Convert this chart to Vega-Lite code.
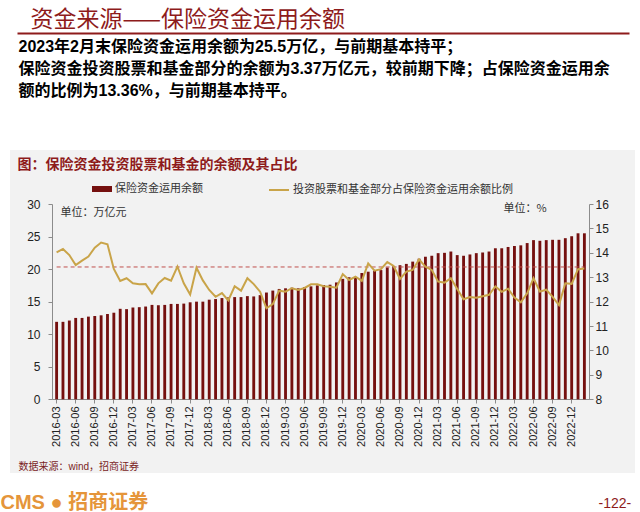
{
  "$schema": "https://vega.github.io/schema/vega-lite/v6.json",
  "width": 625,
  "height": 323,
  "autosize": {"type": "none"},
  "padding": {"left": 10, "top": 150, "right": 5, "bottom": 39},
  "background": "#FFFFFF",
  "config": {"view": {"fill": "#F2F2F2", "stroke": null}, "font": "Liberation Sans"},
  "datasets": {
    "d": [
      {"m": "2016-03", "amt": 11.9, "ratio": 14.02},
      {"m": "2016-04", "amt": 11.9, "ratio": 14.16},
      {"m": "2016-05", "amt": 12.1, "ratio": 13.91},
      {"m": "2016-06", "amt": 12.5, "ratio": 13.5},
      {"m": "2016-07", "amt": 12.5, "ratio": 13.68},
      {"m": "2016-08", "amt": 12.7, "ratio": 13.85},
      {"m": "2016-09", "amt": 12.8, "ratio": 14.21},
      {"m": "2016-10", "amt": 12.9, "ratio": 14.42},
      {"m": "2016-11", "amt": 13.1, "ratio": 14.35},
      {"m": "2016-12", "amt": 13.3, "ratio": 13.34},
      {"m": "2017-01", "amt": 13.9, "ratio": 12.85},
      {"m": "2017-02", "amt": 13.85, "ratio": 12.96},
      {"m": "2017-03", "amt": 14.1, "ratio": 12.75},
      {"m": "2017-04", "amt": 14.15, "ratio": 12.71},
      {"m": "2017-05", "amt": 14.25, "ratio": 12.72},
      {"m": "2017-06", "amt": 14.5, "ratio": 12.34},
      {"m": "2017-07", "amt": 14.45, "ratio": 12.75},
      {"m": "2017-08", "amt": 14.5, "ratio": 12.97},
      {"m": "2017-09", "amt": 14.65, "ratio": 12.86},
      {"m": "2017-10", "amt": 14.65, "ratio": 13.44},
      {"m": "2017-11", "amt": 14.7, "ratio": 12.75},
      {"m": "2017-12", "amt": 14.9, "ratio": 12.29},
      {"m": "2018-01", "amt": 15.0, "ratio": 13.39},
      {"m": "2018-02", "amt": 15.0, "ratio": 12.87},
      {"m": "2018-03", "amt": 15.3, "ratio": 12.48},
      {"m": "2018-04", "amt": 15.4, "ratio": 12.2},
      {"m": "2018-05", "amt": 15.55, "ratio": 12.35},
      {"m": "2018-06", "amt": 15.65, "ratio": 12.05},
      {"m": "2018-07", "amt": 15.7, "ratio": 12.63},
      {"m": "2018-08", "amt": 15.7, "ratio": 12.45},
      {"m": "2018-09", "amt": 15.85, "ratio": 12.96},
      {"m": "2018-10", "amt": 15.8, "ratio": 12.72},
      {"m": "2018-11", "amt": 16.0, "ratio": 12.41},
      {"m": "2018-12", "amt": 16.4, "ratio": 11.73},
      {"m": "2019-01", "amt": 16.7, "ratio": 11.9},
      {"m": "2019-02", "amt": 16.95, "ratio": 12.45},
      {"m": "2019-03", "amt": 17.05, "ratio": 12.41},
      {"m": "2019-04", "amt": 17.15, "ratio": 12.55},
      {"m": "2019-05", "amt": 17.05, "ratio": 12.48},
      {"m": "2019-06", "amt": 17.25, "ratio": 12.56},
      {"m": "2019-07", "amt": 17.35, "ratio": 12.71},
      {"m": "2019-08", "amt": 17.5, "ratio": 12.71},
      {"m": "2019-09", "amt": 17.55, "ratio": 12.63},
      {"m": "2019-10", "amt": 17.6, "ratio": 12.61},
      {"m": "2019-11", "amt": 17.95, "ratio": 12.57},
      {"m": "2019-12", "amt": 18.5, "ratio": 13.13},
      {"m": "2020-01", "amt": 18.75, "ratio": 12.89},
      {"m": "2020-02", "amt": 18.75, "ratio": 13.02},
      {"m": "2020-03", "amt": 19.4, "ratio": 12.85},
      {"m": "2020-04", "amt": 19.6, "ratio": 13.57},
      {"m": "2020-05", "amt": 19.75, "ratio": 13.27},
      {"m": "2020-06", "amt": 19.85, "ratio": 13.33},
      {"m": "2020-07", "amt": 20.25, "ratio": 13.62},
      {"m": "2020-08", "amt": 20.45, "ratio": 13.46},
      {"m": "2020-09", "amt": 20.6, "ratio": 12.93},
      {"m": "2020-10", "amt": 20.8, "ratio": 13.23},
      {"m": "2020-11", "amt": 21.15, "ratio": 13.3},
      {"m": "2020-12", "amt": 21.6, "ratio": 13.73},
      {"m": "2021-01", "amt": 21.9, "ratio": 13.43},
      {"m": "2021-02", "amt": 22.05, "ratio": 13.3},
      {"m": "2021-03", "amt": 22.45, "ratio": 12.82},
      {"m": "2021-04", "amt": 22.5, "ratio": 12.78},
      {"m": "2021-05", "amt": 22.7, "ratio": 12.96},
      {"m": "2021-06", "amt": 22.15, "ratio": 12.52},
      {"m": "2021-07", "amt": 22.05, "ratio": 12.1},
      {"m": "2021-08", "amt": 22.25, "ratio": 12.19},
      {"m": "2021-09", "amt": 22.45, "ratio": 12.16},
      {"m": "2021-10", "amt": 22.55, "ratio": 12.22},
      {"m": "2021-11", "amt": 22.7, "ratio": 12.28},
      {"m": "2021-12", "amt": 23.2, "ratio": 12.62},
      {"m": "2022-01", "amt": 23.2, "ratio": 12.4},
      {"m": "2022-02", "amt": 23.4, "ratio": 12.53},
      {"m": "2022-03", "amt": 23.55, "ratio": 12.17},
      {"m": "2022-04", "amt": 23.65, "ratio": 11.97},
      {"m": "2022-05", "amt": 24.0, "ratio": 12.34},
      {"m": "2022-06", "amt": 24.45, "ratio": 12.96},
      {"m": "2022-07", "amt": 24.35, "ratio": 12.41},
      {"m": "2022-08", "amt": 24.45, "ratio": 12.49},
      {"m": "2022-09", "amt": 24.5, "ratio": 12.2},
      {"m": "2022-10", "amt": 24.5, "ratio": 11.86},
      {"m": "2022-11", "amt": 24.75, "ratio": 12.75},
      {"m": "2022-12", "amt": 25.05, "ratio": 12.73},
      {"m": "2023-01", "amt": 25.5, "ratio": 13.33},
      {"m": "2023-02", "amt": 25.5, "ratio": 13.36}
    ],
    "ref": [{"start": "2016-03", "end": "2023-02", "level": 13.42}]
  },
  "layer": [
    {
      "layer": [
        {
          "data": {"name": "d"},
          "mark": {"type": "bar"},
          "encoding": {
            "x": {
              "field": "m",
              "type": "ordinal",
              "scale": {"range": [42, 579], "paddingInner": 0.55, "paddingOuter": 0.5},
              "axis": {
                "orient": "bottom",
                "offset": -74,
                "values": ["2016-03","2016-06","2016-09","2016-12","2017-03","2017-06","2017-09","2017-12","2018-03","2018-06","2018-09","2018-12","2019-03","2019-06","2019-09","2019-12","2020-03","2020-06","2020-09","2020-12","2021-03","2021-06","2021-09","2021-12","2022-03","2022-06","2022-09","2022-12"],
                "labelAngle": -90,
                "labelFont": "Liberation Sans",
                "labelFontSize": 11,
                "labelColor": "#222222",
                "labelPadding": 3,
                "domainColor": "#8C8C8C",
                "tickColor": "#8C8C8C",
                "tickSize": 4,
                "grid": false,
                "title": "数据来源：wind，招商证券",
                "titleX": 8,
                "titleY": 67,
                "titleAlign": "left",
                "titleAnchor": "start",
                "titleBaseline": "middle",
                "titleFont": "Liberation Sans, Noto Sans CJK SC",
                "titleFontSize": 10,
                "titleFontWeight": "normal",
                "titleColor": "#7A1E1E"
              }
            },
            "y": {
              "field": "amt",
              "type": "quantitative",
              "scale": {"domain": [0, 30], "range": [249.3, 54], "nice": false},
              "axis": {
                "orient": "left",
                "offset": -42,
                "values": [0, 5, 10, 15, 20, 25, 30],
                "labelFont": "Liberation Sans",
                "labelFontSize": 12,
                "labelColor": "#222222",
                "labelPadding": 8,
                "domainColor": "#8C8C8C",
                "tickColor": "#8C8C8C",
                "tickSize": 4,
                "grid": false,
                "title": "单位：万亿元",
                "titleX": 8,
                "titleY": 62,
                "titleAngle": 0,
                "titleAlign": "left",
                "titleAnchor": "start",
                "titleBaseline": "middle",
                "titleFont": "Noto Sans CJK SC",
                "titleFontSize": 11,
                "titleFontWeight": "normal",
                "titleColor": "#333333"
              }
            },
            "color": {
              "datum": "保险资金运用余额",
              "scale": {"range": ["#75100F"]},
              "legend": {
                "orient": "none",
                "legendX": 82,
                "legendY": 29,
                "title": null,
                "symbolType": "M-1,-0.3H1V0.3H-1Z",
                "symbolSize": 400,
                "symbolStrokeWidth": 0,
                "labelFont": "Noto Sans CJK SC",
                "labelFontSize": 11,
                "labelColor": "#333333",
                "labelOffset": 3,
                "labelLimit": 300
              }
            }
          }
        },
        {
          "data": {"name": "ref"},
          "mark": {"type": "rule", "color": "#C0504D", "strokeDash": [4, 3], "strokeWidth": 1},
          "encoding": {
            "x": {
              "field": "start",
              "type": "ordinal",
              "axis": {
                "orient": "bottom",
                "offset": 0,
                "domain": false,
                "ticks": false,
                "labels": false,
                "grid": false,
                "title": "CMS ● 招商证券",
                "titleX": -10,
                "titleY": 29,
                "titleAlign": "left",
                "titleAnchor": "start",
                "titleBaseline": "middle",
                "titleFont": "Liberation Sans, Noto Sans CJK SC",
                "titleFontSize": 20,
                "titleFontWeight": "bold",
                "titleColor": "#E5953A"
              }
            },
            "x2": {"field": "end"},
            "y": {
              "field": "level",
              "type": "quantitative",
              "scale": {"domain": [8, 16], "range": [249.3, 54], "nice": false, "zero": false},
              "axis": {
                "orient": "right",
                "offset": 0,
                "domain": false,
                "ticks": false,
                "labels": false,
                "grid": false,
                "title": "-122-",
                "titleX": -37,
                "titleY": 353,
                "titleAngle": 0,
                "titleAlign": "left",
                "titleAnchor": "start",
                "titleBaseline": "middle",
                "titleFont": "Liberation Sans",
                "titleFontSize": 14,
                "titleFontWeight": "normal",
                "titleColor": "#8E1B1B"
              }
            }
          }
        },
        {
          "data": {"name": "d"},
          "mark": {"type": "line", "strokeWidth": 2},
          "encoding": {
            "x": {
              "field": "m",
              "type": "ordinal",
              "axis": {
                "orient": "top",
                "offset": 0,
                "domain": false,
                "ticks": false,
                "labels": false,
                "grid": false,
                "title": "图：保险资金投资股票和基金的余额及其占比",
                "titleX": 7,
                "titleY": 14,
                "titleAlign": "left",
                "titleAnchor": "start",
                "titleBaseline": "middle",
                "titleFont": "Noto Sans CJK SC",
                "titleFontSize": 14,
                "titleFontWeight": "bold",
                "titleColor": "#8E1B1B"
              }
            },
            "y": {
              "field": "ratio",
              "type": "quantitative",
              "scale": {"domain": [8, 16], "range": [249.3, 54], "nice": false, "zero": false},
              "axis": {
                "orient": "right",
                "offset": -46,
                "values": [8, 9, 10, 11, 12, 13, 14, 15, 16],
                "labelFont": "Liberation Sans",
                "labelFontSize": 12,
                "labelColor": "#222222",
                "labelPadding": 2,
                "domainColor": "#8C8C8C",
                "tickColor": "#8C8C8C",
                "tickSize": 4,
                "grid": false,
                "title": "单位：%",
                "titleX": -86,
                "titleY": 58,
                "titleAngle": 0,
                "titleAlign": "left",
                "titleAnchor": "start",
                "titleBaseline": "middle",
                "titleFont": "Noto Sans CJK SC",
                "titleFontSize": 11,
                "titleFontWeight": "normal",
                "titleColor": "#333333"
              }
            },
            "color": {
              "datum": "投资股票和基金部分占保险资金运用余额比例",
              "scale": {"range": ["#C9A449"]},
              "legend": {
                "orient": "none",
                "legendX": 258,
                "legendY": 29,
                "title": null,
                "symbolType": "stroke",
                "symbolSize": 400,
                "symbolStrokeWidth": 2,
                "labelFont": "Noto Sans CJK SC",
                "labelFontSize": 11,
                "labelColor": "#333333",
                "labelOffset": 3,
                "labelLimit": 400
              }
            }
          }
        }
      ],
      "resolve": {
        "scale": {"y": "independent", "color": "independent"},
        "axis": {"x": "independent", "y": "independent"},
        "legend": {"color": "independent"}
      }
    },
    {
      "data": {"name": "ref"},
      "mark": {"type": "point", "opacity": 0, "size": 0},
      "encoding": {
        "x": {
          "field": "level",
          "type": "quantitative",
          "scale": {"domain": [0, 20], "range": [7, 619], "nice": false, "zero": false},
          "axis": {
            "orient": "top",
            "offset": 117,
            "domainColor": "#8E1B1B",
            "domainWidth": 2,
            "ticks": false,
            "labels": false,
            "grid": false,
            "title": "资金来源——保险资金运用余额",
            "titleX": 20,
            "titleY": -14,
            "titleAlign": "left",
            "titleAnchor": "start",
            "titleBaseline": "middle",
            "titleFont": "Noto Sans CJK SC",
            "titleFontSize": 23,
            "titleFontWeight": "normal",
            "titleColor": "#8E1B1B",
            "titleLimit": 1000
          }
        },
        "y": {
          "field": "level",
          "type": "quantitative",
          "scale": {"domain": [0, 20], "nice": false, "zero": false},
          "axis": {
            "orient": "left",
            "offset": 0,
            "domain": false,
            "ticks": false,
            "labels": false,
            "grid": false,
            "title": [
              "2023年2月末保险资金运用余额为25.5万亿，与前期基本持平；",
              "保险资金投资股票和基金部分的余额为3.37万亿元，较前期下降；占保险资金运用余",
              "额的比例为13.36%，与前期基本持平。"
            ],
            "titleX": 8,
            "titleY": -112,
            "titleAngle": 0,
            "titleAlign": "left",
            "titleAnchor": "start",
            "titleBaseline": "top",
            "titleLineHeight": 22,
            "titleFont": "Liberation Sans, Noto Sans CJK SC",
            "titleFontSize": 16,
            "titleFontWeight": "bold",
            "titleColor": "#000000",
            "titleLimit": 1000
          }
        }
      }
    }
  ],
  "resolve": {
    "scale": {"x": "independent", "y": "independent"},
    "axis": {"x": "independent", "y": "independent"}
  }
}
